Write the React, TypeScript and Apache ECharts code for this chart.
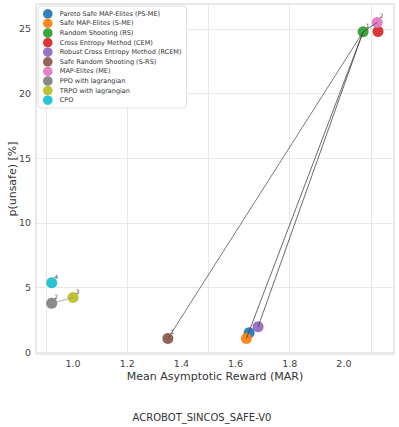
import React, { useEffect, useRef } from "react";
import * as echarts from "echarts";

const methods = [
  "Pareto Safe MAP-Elites (PS-ME)",
  "Safe MAP-Elites (S-ME)",
  "Random Shooting (RS)",
  "Cross Entropy Method (CEM)",
  "Robust Cross Entropy Method (RCEM)",
  "Safe Random Shooting (S-RS)",
  "MAP-Elites (ME)",
  "PPO with lagrangian",
  "TRPO with lagrangian",
  "CPO",
];
const colors = ["#1f77b4", "#ff7f0e", "#2ca02c", "#d62728", "#9467bd", "#8c564b", "#e377c2", "#7f7f7f", "#bcbd22", "#17becf"];
const marValues = [1.65, 1.64, 2.071, 2.126, 1.683, 1.35, 2.123, 0.921, 1.0, 0.921];
const unsafeValues = [1.5, 1.05, 24.78, 24.8, 1.95, 1.05, 25.5, 3.78, 4.22, 5.37];
const rankLabels = ["", "", "1", "", "", "1", "2", "2", "3", "4"];
// connections between methods (indices)
const links: [number, number, string][] = [
  [5, 2, "#555"],
  [1, 2, "#444"],
  [4, 2, "#444"],
  [2, 6, "#444"],
  [7, 8, "#999"],
];
const xTicks = [1.0, 1.2, 1.4, 1.6, 1.8, 2.0];
const yTicks = [0, 5, 10, 15, 20, 25];

export default function App() {
  const ref = useRef<HTMLDivElement>(null);
  useEffect(() => {
    if (!ref.current) return;
    const chart = echarts.init(ref.current, null, { renderer: "svg" });
    const font = "DejaVu Sans";
    const lineSeries = links.map(([a, b, c]) => ({
      type: "line",
      data: [
        [marValues[a], unsafeValues[a]],
        [marValues[b], unsafeValues[b]],
      ],
      showSymbol: false,
      symbol: "none",
      lineStyle: { color: c, width: 0.8 },
      z: 5,
      silent: true,
    }));
    const scatterSeries = methods.map((m, i) => ({
      type: "scatter",
      name: m,
      data: [[marValues[i], unsafeValues[i]]],
      symbolSize: 11,
      itemStyle: { color: colors[i], opacity: 0.92 },
      label: {
        show: rankLabels[i] !== "",
        formatter: rankLabels[i],
        position: [8, -4],
        fontSize: 6,
        color: "#333",
        fontFamily: font,
      },
      z: 3,
    }));
    chart.setOption({
      animation: false,
      backgroundColor: "#fff",
      title: {
        text: "ACROBOT_SINCOS_SAFE-V0",
        left: 197,
        textAlign: "center",
        top: 407,
        textStyle: { fontSize: 10, fontWeight: "normal", color: "#333", fontFamily: font },
      },
      legend: {
        data: methods,
        orient: "vertical",
        left: 38,
        top: 6,
        itemWidth: 10,
        itemHeight: 9.6,
        itemGap: 0,
        icon: "circle",
        backgroundColor: "#fff",
        borderColor: "#d8d8d8",
        borderWidth: 0.8,
        borderRadius: 3,
        padding: [3, 5, 3, 5],
        textStyle: { fontSize: 6.5, color: "#333", fontFamily: font, padding: [0, 0, 0, 2] },
      },
      grid: {
        left: 36,
        right: 5,
        top: 4,
        bottom: 73,
        show: true,
        borderColor: "#d6d6d6",
        borderWidth: 1,
        containLabel: false,
        outerBoundsMode: "none",
      } as any,
      xAxis: {
        type: "value",
        min: 0.863,
        max: 2.185,
        name: "Mean Asymptotic Reward (MAR)",
        nameLocation: "middle",
        nameGap: 17,
        nameMoveOverlap: false,
        nameTextStyle: { fontSize: 11, color: "#333", fontFamily: font },
        axisLine: { show: false },
        axisTick: { show: false },
        axisLabel: {
          fontSize: 9.5,
          color: "#444",
          fontFamily: font,
          margin: 4,
          customValues: xTicks,
          formatter: (v: number) => v.toFixed(1),
        },
        splitLine: { lineStyle: { color: "#e8e8e8", width: 1 } },
        customValues: xTicks,
      } as any,
      yAxis: {
        type: "value",
        min: -0.15,
        max: 26.93,
        name: "p(unsafe) [%]",
        nameLocation: "middle",
        nameGap: 18,
        nameMoveOverlap: false,
        nameTextStyle: { fontSize: 11, color: "#333", fontFamily: font },
        axisLine: { show: false },
        axisTick: { show: false },
        axisLabel: {
          fontSize: 9.5,
          color: "#444",
          fontFamily: font,
          margin: 5,
          customValues: yTicks,
        },
        splitLine: { lineStyle: { color: "#e8e8e8", width: 1 } },
      } as any,
      series: [...scatterSeries, ...lineSeries],
    });
    return () => chart.dispose();
  }, []);
  return (
    <div
      ref={ref}
      style={{ position: "fixed", left: 0, top: 0, width: 399, height: 427 }}
    />
  );
}
